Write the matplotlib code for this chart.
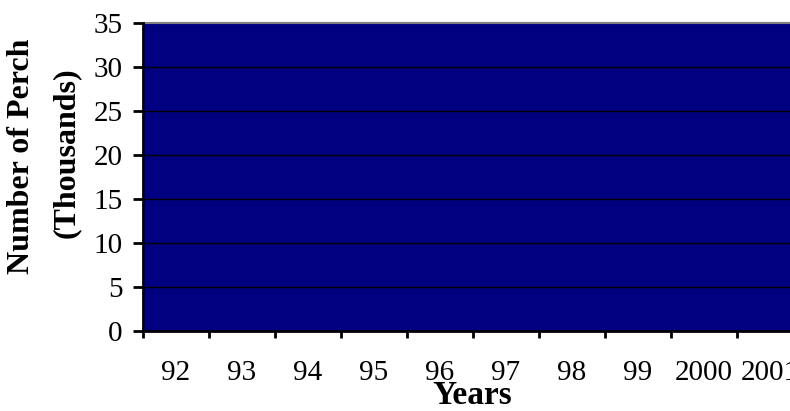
import matplotlib
matplotlib.use("Agg")
import matplotlib.pyplot as plt
import numpy as np

# yearly perch counts (thousands); every year runs past the top of the axis
years = ["92", "93", "94", "95", "96", "97", "98", "99", "2000", "2001"]
perch = [48, 52, 45, 41, 39, 44, 50, 47, 43, 46]
y_ticks = [0, 5, 10, 15, 20, 25, 30, 35]

plt.rcParams['font.family'] = ['Liberation Serif', 'DejaVu Serif']

fig = plt.figure(figsize=(7.9, 4.11), dpi=100)
ax = fig.add_axes([143 / 790, 1 - 331 / 411, 660 / 790, 308 / 411])

x = np.arange(len(years))
ax.bar(x, perch, width=1.0, color="#000080", edgecolor="none", zorder=1)

ax.set_ylim(0, 35)
ax.set_xlim(-0.5, len(years) - 0.5)
ax.set_yticks(y_ticks)
ax.set_yticklabels([str(t) for t in y_ticks])

# category boundaries carry the ticks, labels sit in the middle of each year
ax.set_xticks(np.arange(len(years) + 1) - 0.5)
ax.set_xticklabels([])
ax.set_xticks(x, minor=True)
ax.set_xticklabels(years, minor=True)
ax.tick_params(axis="x", which="minor", length=0, pad=21, labelsize=21)
ax.tick_params(axis="x", which="major", direction="out", length=5, width=2)
ax.tick_params(axis="y", direction="out", length=7.5, width=2, pad=7, labelsize=21)

for yv in y_ticks[1:-1]:
    ax.axhline(yv, color="black", linewidth=1.0, zorder=2)

ax.spines["left"].set_linewidth(2)
ax.spines["bottom"].set_linewidth(2)
ax.spines["left"].set_zorder(3)
ax.spines["bottom"].set_zorder(3)
ax.spines["top"].set_color("#808080")
ax.spines["top"].set_linewidth(1.5)
ax.spines["right"].set_visible(False)

fig.text(472 / 790, 1 - 404 / 411, "Years", ha="center", va="baseline",
         fontsize=24, fontweight="bold")
fig.text(22 / 790, 1 - 156 / 411, "Number of Perch", ha="center", va="center",
         rotation=90, fontsize=23, fontweight="bold")
fig.text(66 / 790, 1 - 153 / 411, "(Thousands)", ha="center", va="center",
         rotation=90, fontsize=23, fontweight="bold")

fig.savefig("out.png", dpi=100)
